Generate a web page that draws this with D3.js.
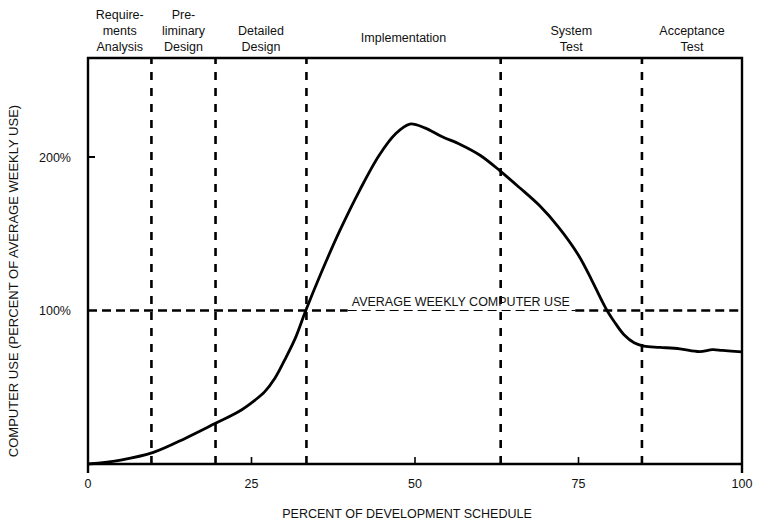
<!DOCTYPE html>
<html><head><meta charset="utf-8">
<script src="https://cdn.jsdelivr.net/npm/d3@7"></script>
<style>
body{margin:0;background:#fff;}
svg text{font-family:"Liberation Sans",Arial,sans-serif;fill:#111;}
</style></head>
<body><svg id="c" width="757" height="523"></svg>
<script>
const schedule = [0, 5, 10, 15, 19.5, 23, 25.5, 27, 28.6, 30.1, 31.7, 33.3, 35.5, 38.5, 41.5, 44.5, 47, 49.2, 51.5, 54, 57, 60, 63, 66, 69, 72, 75, 77, 78.5, 79.5, 80.5, 82, 83.5, 85, 87.5, 90.5, 93.5, 95.5, 97, 100];
const usage = [0, 2.6, 7.6, 17, 26.5, 34, 41.5, 47, 56, 68, 82, 100, 123, 152, 178, 201, 215, 221.5, 219, 213.5, 208, 201, 191, 180, 168.5, 154, 136, 120, 107, 99, 92.5, 84, 79, 76.8, 76, 75, 73.2, 74.5, 74, 73];
const phaseBounds = [9.7, 19.5, 33.4, 63.1, 84.7];
const phaseNames = [["Require-","ments","Analysis"],["Pre-","liminary","Design"],["Detailed","Design"],["Implementation"],["System","Test"],["Acceptance","Test"]];
const xTicks = [0, 25, 50, 75, 100];
const yTicks = [100, 200];
const yTickLabels = ["100%", "200%"];
const averageLabel = "AVERAGE WEEKLY COMPUTER USE";

const svg = d3.select("#c");
const L = 88, R = 742, T = 58, B = 464;
const x = d3.scaleLinear().domain([0, 100]).range([L, R]);
const y = d3.scaleLinear().domain([0, 264.5]).range([B, T]);

// vertical dashed phase lines
svg.selectAll(".vl").data(phaseBounds).enter().append("line")
  .attr("x1", d => x(d)).attr("x2", d => x(d)).attr("y1", T).attr("y2", B)
  .attr("stroke", "#000").attr("stroke-width", 2.6).attr("stroke-dasharray", "8,8").attr("stroke-dashoffset", 2);

// average line: thick parts and thin part under label
const avgSegs = [[0, 39.7, 2.6], [39.7, 74.5, 1.1], [74.5, 100, 2.6]];
svg.selectAll(".hl").data(avgSegs).enter().append("line")
  .attr("x1", d => x(d[0])).attr("x2", d => x(d[1])).attr("y1", y(100)).attr("y2", y(100))
  .attr("stroke", "#000").attr("stroke-width", d => d[2]).attr("stroke-dasharray", "9,5");

svg.append("text").attr("x", x(57)).attr("y", y(100) - 5).attr("text-anchor", "middle")
  .attr("font-size", 12.5).text(averageLabel);

// frame
svg.append("path").attr("d", `M${L},${B+9}V${T}H${R}V${B+9}M${L},${B}H${R}`)
  .attr("fill", "none").attr("stroke", "#000").attr("stroke-width", 2.4);

// x ticks (inward)
svg.selectAll(".xt").data(xTicks.slice(1, -1)).enter().append("line")
  .attr("x1", d => x(d)).attr("x2", d => x(d)).attr("y1", B).attr("y2", B - 7)
  .attr("stroke", "#000").attr("stroke-width", 1.6);
svg.selectAll(".xl").data(xTicks).enter().append("text")
  .attr("x", d => x(d)).attr("y", B + 24).attr("text-anchor", "middle").attr("font-size", 12.5)
  .text(d => d);

// y ticks
svg.selectAll(".yt").data([200]).enter().append("line")
  .attr("x1", L).attr("x2", L + 7).attr("y1", d => y(d)).attr("y2", d => y(d))
  .attr("stroke", "#000").attr("stroke-width", 2);
svg.selectAll(".yl").data(yTicks).enter().append("text")
  .attr("x", L - 17).attr("y", d => y(d) + 4.5).attr("text-anchor", "end").attr("font-size", 12.5)
  .text((d, i) => yTickLabels[i]);

// curve
const line = d3.line().x((d, i) => x(schedule[i])).y(d => y(d)).curve(d3.curveCatmullRom.alpha(0.5));
svg.append("path").datum(usage).attr("d", line).attr("fill", "none")
  .attr("stroke", "#000").attr("stroke-width", 2.8).attr("stroke-linejoin", "round");

// phase labels
const edges = [0, ...phaseBounds, 100];
phaseNames.forEach((lines, i) => {
  const cx = (x(edges[i]) + x(edges[i + 1])) / 2;
  const n = lines.length;
  const t = svg.append("text").attr("text-anchor", "middle").attr("font-size", 12.5);
  lines.forEach((s, j) => {
    const base = n === 1 ? 42 : 51 - (n - 1 - j) * 16;
    t.append("tspan").attr("x", cx).attr("y", base).text(s);
  });
});

// axis titles
svg.append("text").attr("x", (L + R) / 2 - 8).attr("y", 518).attr("text-anchor", "middle")
  .attr("font-size", 12.5).text("PERCENT OF DEVELOPMENT SCHEDULE");
svg.append("text").attr("transform", `translate(18,281) rotate(-90)`).attr("text-anchor", "middle")
  .attr("font-size", 13).text("COMPUTER USE (PERCENT OF AVERAGE WEEKLY USE)");
</script></body></html>
